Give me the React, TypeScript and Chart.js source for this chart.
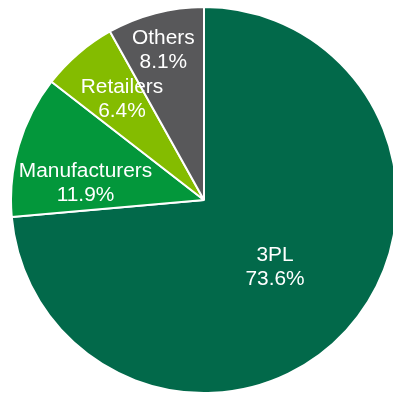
import React, { useEffect, useRef } from "react";
import { Chart, registerables } from "chart.js";

Chart.register(...registerables);

const categories = ["3PL", "Manufacturers", "Retailers", "Others"];
const shares = [73.6, 11.9, 6.4, 8.1];
const sliceColors = ["#02694A", "#03973B", "#84BC00", "#58585A"];
// label placement: fraction of radius and angular shift (degrees) from slice mid-angle
const labelRadiusFrac = [0.51, 0.62, 0.67, 0.8];
const labelAngleShift = [1.3, -8.4, 1.3, -0.7];

const labelPlugin = {
  id: "sliceLabels",
  afterDatasetsDraw(chart: any) {
    const ctx = chart.ctx;
    const meta = chart.getDatasetMeta(0);
    meta.data.forEach((arc: any, i: number) => {
      const p = arc.getProps(["x", "y", "startAngle", "endAngle", "outerRadius"], true);
      const mid = (p.startAngle + p.endAngle) / 2 + (labelAngleShift[i] * Math.PI) / 180;
      const r = p.outerRadius * labelRadiusFrac[i];
      const x = p.x + Math.cos(mid) * r;
      const y = p.y + Math.sin(mid) * r;
      ctx.save();
      ctx.fillStyle = "#ffffff";
      ctx.font = "19.5px 'Liberation Sans', Arial, sans-serif";
      ctx.textAlign = "center";
      ctx.textBaseline = "middle";
      ctx.translate(x, y);
      ctx.scale(1.07, 1);
      ctx.fillText(categories[i], 0, -12);
      ctx.fillText(shares[i].toFixed(1) + "%", 0, 12);
      ctx.restore();
    });
  },
};

export default function App() {
  const ref = useRef<HTMLCanvasElement>(null);
  useEffect(() => {
    document.body.style.margin = "0";
    const chart = new Chart(ref.current!, {
      type: "pie",
      data: {
        labels: categories,
        datasets: [
          {
            data: shares,
            backgroundColor: sliceColors,
            borderColor: "#ffffff",
            borderWidth: 2,
          },
        ],
      },
      options: {
        animation: false,
        responsive: false,
        plugins: {
          legend: { display: false },
          tooltip: { enabled: false },
        },
      },
      plugins: [labelPlugin],
    });
    return () => chart.destroy();
  }, []);
  return (
    <div
      style={{
        position: "fixed",
        left: 0,
        top: 0,
        width: 393,
        height: 393,
        overflow: "hidden",
        background: "#ffffff",
      }}
    >
      <canvas
        ref={ref}
        width={388}
        height={388}
        style={{ position: "absolute", left: 10, top: 6, width: 388, height: 388 }}
      />
    </div>
  );
}
